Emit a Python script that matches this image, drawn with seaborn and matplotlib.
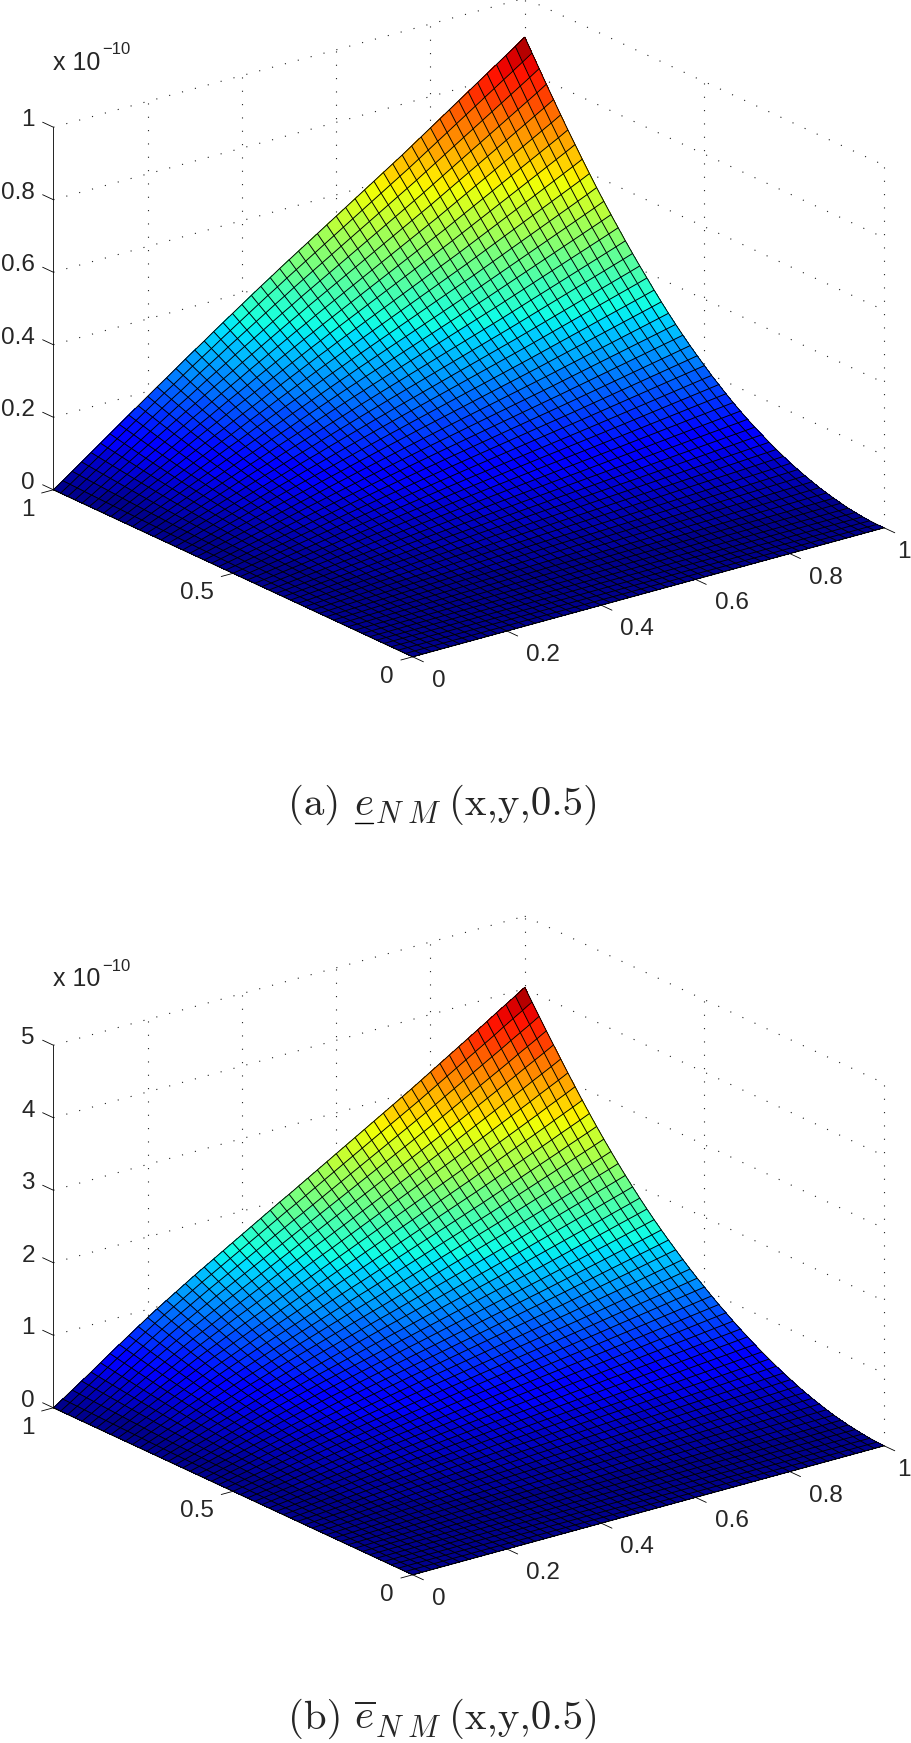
import numpy as np
import matplotlib
matplotlib.use("Agg")
import matplotlib.pyplot as plt
from matplotlib.lines import Line2D
from mpl_toolkits.mplot3d import proj3d
import seaborn as sns

# node positions of the mesh (50 x 50 cells)
x_nodes = np.linspace(0, 1, 51)
y_nodes = np.linspace(0, 1, 51)

# edge profiles, as a fraction of the peak
# panel a
a_peak = 0.893
a_x_edge = [0.000, 0.020, 0.041, 0.062, 0.083, 0.104, 0.125, 0.146, 0.167, 0.188,
            0.209, 0.230, 0.250, 0.271, 0.292, 0.312, 0.332, 0.353, 0.373, 0.393,
            0.413, 0.433, 0.453, 0.472, 0.492, 0.511, 0.530, 0.549, 0.568, 0.587,
            0.606, 0.625, 0.644, 0.663, 0.682, 0.701, 0.720, 0.739, 0.759, 0.779,
            0.799, 0.819, 0.839, 0.859, 0.879, 0.899, 0.919, 0.939, 0.959, 0.979, 1.000]
a_y_edge = [0.000, 0.000, 0.001, 0.003, 0.006, 0.009, 0.014, 0.019, 0.025, 0.031,
            0.039, 0.047, 0.056, 0.065, 0.076, 0.087, 0.099, 0.112, 0.125, 0.139,
            0.154, 0.170, 0.187, 0.205, 0.223, 0.243, 0.263, 0.284, 0.306, 0.329,
            0.353, 0.378, 0.404, 0.431, 0.458, 0.486, 0.515, 0.545, 0.575, 0.606,
            0.638, 0.671, 0.705, 0.740, 0.775, 0.811, 0.848, 0.885, 0.923, 0.961, 1.000]
# panel b
b_peak = 4.02
b_x_edge = [0.000, 0.021, 0.043, 0.065, 0.087, 0.110, 0.133, 0.155, 0.177, 0.199,
            0.221, 0.242, 0.262, 0.282, 0.302, 0.322, 0.341, 0.360, 0.379, 0.398,
            0.417, 0.436, 0.455, 0.474, 0.493, 0.511, 0.530, 0.549, 0.568, 0.587,
            0.606, 0.625, 0.644, 0.663, 0.682, 0.701, 0.720, 0.739, 0.758, 0.778,
            0.798, 0.818, 0.838, 0.858, 0.878, 0.898, 0.918, 0.939, 0.959, 0.979, 1.000]
b_y_edge = [0.000, 0.001, 0.003, 0.006, 0.010, 0.014, 0.019, 0.025, 0.032, 0.040,
            0.048, 0.057, 0.067, 0.078, 0.089, 0.101, 0.114, 0.127, 0.141, 0.156,
            0.171, 0.187, 0.204, 0.221, 0.239, 0.258, 0.277, 0.297, 0.318, 0.340,
            0.362, 0.385, 0.409, 0.434, 0.460, 0.487, 0.515, 0.544, 0.574, 0.605,
            0.637, 0.670, 0.704, 0.739, 0.775, 0.811, 0.848, 0.885, 0.923, 0.961, 1.000]

x_ticks = [0, 0.2, 0.4, 0.6, 0.8, 1]
x_labels = ["0", "0.2", "0.4", "0.6", "0.8", "1"]
y_ticks = [0, 0.5, 1]
y_labels = ["0", "0.5", "1"]
a_z_ticks = [0, 0.2, 0.4, 0.6, 0.8, 1]
a_z_labels = ["0", "0.2", "0.4", "0.6", "0.8", "1"]
b_z_ticks = [0, 1, 2, 3, 4, 5]
b_z_labels = ["0", "1", "2", "3", "4", "5"]

W, H = 911, 1743
sns.set_style("white")
plt.rcParams["font.family"] = ["Liberation Sans", "DejaVu Sans"]
# 64 flat colour levels, starting a little above the darkest blue
jet_levels = matplotlib.colormaps["jet"](np.linspace(0.014, 1, 64))
fig = plt.figure(figsize=(W / 100, H / 100), dpi=100)


def panel(bottom_px, peak, x_edge, y_edge, z_ticks, z_labels):
    ax = fig.add_axes([8.6 / W, bottom_px / H, 896 / W, 896 / H], projection="3d",
                      proj_type="ortho", computed_zorder=False)
    ax.patch.set_alpha(0)
    ax.set_axis_off()
    ax.view_init(elev=20.9, azim=-127.5)
    ax.set_box_aspect((594, 590, 388))
    z_top = z_ticks[-1]
    ax.set_xlim(0, 1, view_margin=0)
    ax.set_ylim(0, 1, view_margin=0)
    ax.set_zlim(0, z_top, view_margin=0)

    # dotted walls behind the surface
    dots = dict(color="#222222", lw=0.8, ls=(0, (1, 11)), zorder=1)
    for z in z_ticks[1:]:
        ax.plot([0, 1], [1, 1], [z, z], **dots)
        ax.plot([1, 1], [1, 0], [z, z], **dots)
    for x in x_ticks[1:]:
        ax.plot([x, x], [1, 1], [0, z_top], **dots)
    for y in y_ticks[:-1]:
        ax.plot([1, 1], [y, y], [0, z_top], **dots)

    # surface, then the mesh on top so both line directions stay equally strong
    X, Y = np.meshgrid(x_nodes, y_nodes)
    Z = np.outer(y_edge, x_edge) * peak
    colors = jet_levels[np.clip((Z / peak * 64).astype(int), 0, 63)]
    ax.plot_surface(X, Y, Z, facecolors=colors, rstride=1, cstride=1, shade=False,
                    linewidth=0, antialiased=False, zorder=2)
    ax.plot_wireframe(X, Y, Z, rstride=1, cstride=1, color="black", linewidth=0.68, zorder=3)

    # axes lines and ticks
    solid = dict(color="black", lw=0.6, zorder=4)
    ax.plot([0, 0], [1, 1], [0, z_top], **solid)
    ax.plot([0, 1], [0, 0], [0, 0], **solid)
    ax.plot([0, 0], [0, 1], [0, 0], **solid)
    for x in x_ticks:
        ax.plot([x, x], [0, -0.03], [0, 0], **solid)
    for y in y_ticks:
        ax.plot([0, -0.025], [y, y], [0, 0], **solid)
    for z in z_ticks:
        ax.plot([0, 0], [1, 1.03], [z, z], **solid)

    # tick labels, placed from the projected tick position
    M = ax.get_proj()
    def label(s, x, y, z, dx, dy, ha="center"):
        px, py, _ = proj3d.proj_transform(x, y, z, M)
        ax.annotate(s, xy=(px, py), xytext=(dx, dy), textcoords="offset pixels",
                    ha=ha, va="center", fontsize=17.5, annotation_clip=False)
    for t, s in zip(x_ticks, x_labels):
        label(s, t, 0, 0, 36 if len(s) > 1 else (26 if t == 0 else 20), -24)
    for t, s in zip(y_ticks, y_labels):
        label(s, 0, t, 0, -36.5 if len(s) > 1 else -26, -20)
    for t, s in zip(z_ticks, z_labels):
        label(s, 0, 1, t, -18.5, 7, ha="right")
    return ax


panel(955.4, a_peak, a_x_edge, a_y_edge, a_z_ticks, a_z_labels)
panel(37.4, b_peak, b_x_edge, b_y_edge, b_z_ticks, b_z_labels)

# exponent labels
for y_px in [69.5, 986.5]:
    fig.text(53 / W, 1 - y_px / H, "x 10", fontsize=18, ha="left", va="baseline")
    fig.text(102 / W, 1 - (y_px - 15.5) / H, "\u221210", fontsize=12, ha="left", va="baseline")

# captions, built from pieces so the gaps follow the picture
cap = dict(fontsize=29.5, ha="left", va="baseline", family="cmr10", math_fontfamily="cm")
sub = dict(fontsize=22, ha="left", va="baseline", math_fontfamily="cm")
for y_px, tag, sym in [(815, "(a)", r"$e$"), (1729, "(b)", r"$\overline{e}$")]:
    fig.text(288 / W, 1 - y_px / H, tag, **cap)
    fig.text(354 / W, 1 - y_px / H, sym, **cap)
    fig.text(375 / W, 1 - (y_px + 8) / H, r"$N$", **sub)
    fig.text(407 / W, 1 - (y_px + 8) / H, r"$M$", **sub)
    fig.text(449 / W, 1 - y_px / H, "(x,y,0.5)", **cap)
fig.add_artist(Line2D([355 / W, 373 / W], [1 - 822.5 / H, 1 - 822.5 / H], color="black", lw=1.0))

fig.savefig("out.png", dpi=100)
